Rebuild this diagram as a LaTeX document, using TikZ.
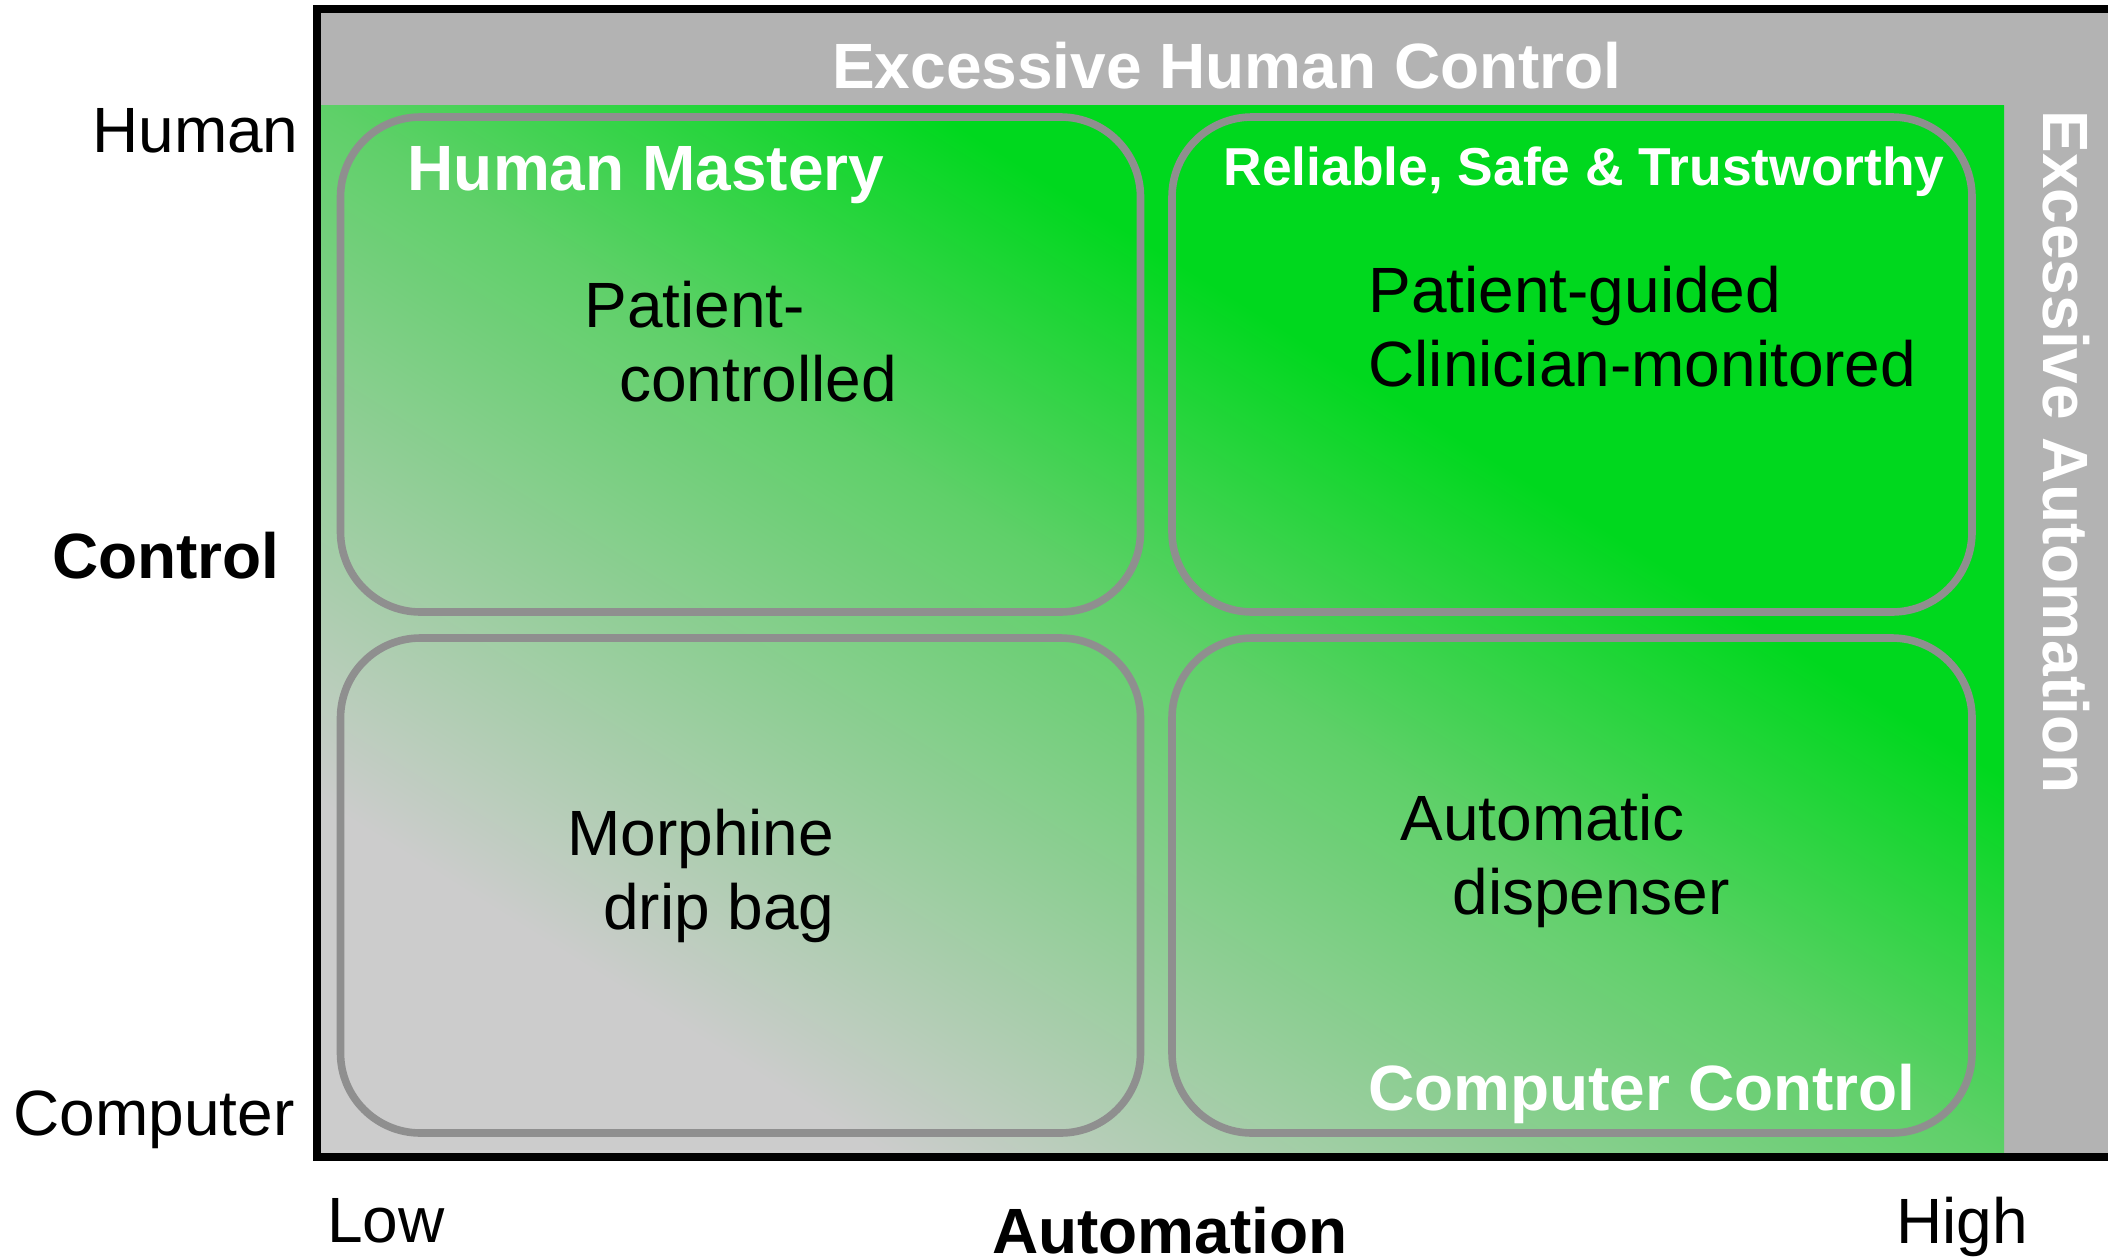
\documentclass[tikz,border=0pt]{standalone}
\usepackage{fontspec}
\setmainfont{Liberation Sans}
\definecolor{sgray}{RGB}{204,204,204}
\definecolor{smid}{RGB}{95,208,105}
\definecolor{sgreen}{RGB}{0,216,30}
\definecolor{band}{RGB}{179,179,179}
\definecolor{boxline}{RGB}{143,143,143}
% 25bp = bottom-left corner, 75bp = top-right corner of the green area
\pgfdeclareverticalshading{gradgg}{100bp}{color(0bp)=(sgray); color(33.5bp)=(sgray); color(50bp)=(smid); color(59bp)=(sgreen); color(100bp)=(sgreen)}
\tikzset{
  hdr/.style={font=\fontsize{32}{38}\selectfont\bfseries, text=white, inner sep=0pt},
  lbl/.style={font=\fontsize{32}{38}\selectfont, inner sep=0pt},
  lblb/.style={font=\fontsize{32}{38}\selectfont\bfseries, inner sep=0pt},
  qbox/.style={draw=boxline, line width=3.8pt, rounded corners=40pt, inner sep=0pt,
    minimum width=400pt, minimum height=247.5pt},
  frameline/.style={line width=4pt, draw=black}
}
\begin{document}
\begin{tikzpicture}[x=0.5pt,y=-0.5pt]
\useasboundingbox (0,0) rectangle (2108,1258);
% gray bands
\fill[band] (317,9) rectangle (2140,1157);
% gradient area: unit square stretched to the green area, diagonal gradient inside
\begin{scope}[transform canvas={shift={(158.5pt,-578.5pt)}, xscale=8.435, yscale=5.26}]
  \clip (0pt,0pt) rectangle (100pt,100pt);
  \begin{scope}[transform canvas={shift={(50pt,50pt)}, rotate=-45}]
    \shade[shading=gradgg] (-100pt,-70.71pt) rectangle (100pt,70.71pt);
  \end{scope}
\end{scope}
% quadrant boxes
\node[qbox] (tl) at (740.5,364.5) {};
\node[qbox] (tr) at (1572,364.5) {};
\node[qbox] (bl) at (740.5,885.5) {};
\node[qbox] (br) at (1572,885.5) {};
% frame
\draw[frameline] (317,9) rectangle (2140,1157);
% headers
\node[hdr, anchor=base] (ehc) at (1227,88) {Excessive Human Control};
\node[hdr, anchor=base, rotate=-90] (ea) at (2043,452) {Excessive Automation};
\node[hdr, anchor=base] (hm) at (646,190) {Human Mastery};
\node[hdr, anchor=base, font=\fontsize{26.7}{32}\selectfont\bfseries] (rst) at (1584,185) {Reliable, Safe \& Trustworthy};
\node[hdr, anchor=base] (cc) at (1642,1110) {Computer Control};
% axis labels
\node[lbl, anchor=base east] (human) at (299,152) {Human};
\node[lblb, anchor=base east] (control) at (280,578) {Control};
\node[lbl, anchor=base east] (computer) at (295,1135) {Computer};
\node[lbl, anchor=base west] (low) at (327,1242) {Low};
\node[lblb, anchor=base] (automation) at (1170,1253) {Automation};
\node[lbl, anchor=base west] (high) at (1896,1243) {High};
% quadrant contents
\node[lbl, anchor=base west] (pc1) at (584,327) {Patient-};
\node[lbl, anchor=base west] (pc2) at (619,401) {controlled};
\node[lbl, anchor=base west] (pg1) at (1368,312) {Patient-guided};
\node[lbl, anchor=base west] (pg2) at (1368,386) {Clinician-monitored};
\node[lbl, anchor=base west] (md1) at (567,855) {Morphine};
\node[lbl, anchor=base west] (md2) at (603,929) {drip bag};
\node[lbl, anchor=base west] (ad1) at (1400,840) {Automatic};
\node[lbl, anchor=base west] (ad2) at (1452,914) {dispenser};
\end{tikzpicture}
\end{document}
